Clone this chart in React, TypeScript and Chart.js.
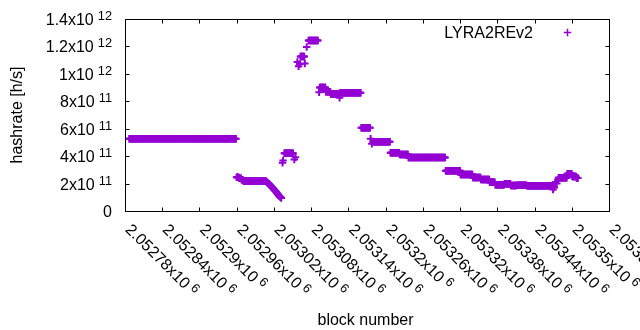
import React, { useEffect, useRef } from 'react';
import { Chart, registerables } from 'chart.js';

Chart.register(...registerables);

// ---- texts ----
const seriesLabel = 'LYRA2REv2';
const xTitle = 'block number';
const yTitle = 'hashrate [h/s]';

// ---- axes ----
const xMin = 2052780;
const xMax = 2053560;
const xTickValues = [2052780, 2052840, 2052900, 2052960, 2053020, 2053080, 2053140, 2053200, 2053260, 2053320, 2053380, 2053440, 2053500, 2053560];
const xTickMantissa = ['2.05278', '2.05284', '2.0529', '2.05296', '2.05302', '2.05308', '2.05314', '2.0532', '2.05326', '2.05332', '2.05338', '2.05344', '2.0535', '2.05356'];
const xTickExp = '6';
const yMin = 0;
const yMax = 1.4e12;
const yTickValues = [0, 2e11, 4e11, 6e11, 8e11, 1e12, 1.2e12, 1.4e12];
const yTickMantissa = ['0', '2', '4', '6', '8', '1', '1.2', '1.4'];
const yTickExp = ['', '11', '11', '11', '11', '12', '12', '12'];

// ---- data: runs of blocks sharing one hashrate value (x 1e11 h/s) ----
const runFirst = [
  2052786, 2052959, 2052963, 2052967, 2052970,
  2053007, 2053008, 2053009, 2053010, 2053011, 2053012, 2053013, 2053014, 2053015, 2053016,
  2053017, 2053018, 2053019, 2053020, 2053021, 2053022, 2053023, 2053024, 2053025, 2053026,
  2053027, 2053028, 2053029, 2053030, 2053031,
  2053033, 2053034, 2053036, 2053052, 2053054,
  2053057, 2053059, 2053061, 2053062, 2053069, 2053072, 2053075,
  2053092, 2053093, 2053103, 2053111, 2053125, 2053126,
  2053160, 2053175, 2053177, 2053179, 2053207, 2053222, 2053236,
  2053296, 2053320, 2053340, 2053353, 2053367, 2053376, 2053391, 2053401, 2053411, 2053427,
  2053469, 2053471, 2053473, 2053475, 2053477, 2053478, 2053492, 2053500, 2053507,
];
const runLast = [
  2052958, 2052962, 2052966, 2052969, 2053006,
  2053007, 2053008, 2053009, 2053010, 2053011, 2053012, 2053013, 2053014, 2053015, 2053016,
  2053017, 2053018, 2053019, 2053020, 2053021, 2053022, 2053023, 2053024, 2053025, 2053026,
  2053027, 2053028, 2053029, 2053030, 2053031,
  2053033, 2053034, 2053050, 2053052, 2053054,
  2053057, 2053059, 2053061, 2053068, 2053069, 2053072, 2053090,
  2053092, 2053102, 2053110, 2053124, 2053125, 2053159,
  2053174, 2053175, 2053177, 2053206, 2053221, 2053235, 2053295,
  2053319, 2053339, 2053352, 2053366, 2053375, 2053390, 2053400, 2053410, 2053426, 2053468,
  2053469, 2053471, 2053473, 2053475, 2053477, 2053491, 2053499, 2053506, 2053509,
];
const runValue = [
  5.3, 2.5, 2.42, 2.32, 2.22,
  2.18, 2.14, 2.1, 2.06, 2.02, 1.97, 1.92, 1.87, 1.82, 1.77,
  1.72, 1.67, 1.62, 1.57, 1.52, 1.47, 1.41, 1.35, 1.29, 1.23,
  1.17, 1.12, 1.07, 1.03, 0.99,
  3.55, 3.72, 4.25, 3.8, 3.95,
  10.9, 10.6, 10.75, 11.3, 10.8, 12.0, 12.46,
  8.7, 9.04, 8.74, 8.56, 8.3, 8.66,
  6.1, 5.3, 4.94, 5.09, 4.28, 4.16, 3.94,
  2.97, 2.7, 2.48, 2.34, 2.14, 1.95, 2.02, 1.9, 1.92, 1.87,
  1.6, 1.75, 2.15, 2.05, 2.3, 2.46, 2.75, 2.55, 2.45,
];
const valueUnit = 1e11;

// ---- style ----
const POINT_COLOR = '#9400d3';
const TEXT_COLOR = '#000000';
const FONT_FAMILY = '"Liberation Sans", Arial, sans-serif';
const FONT_SIZE = 16;
const SUP_SIZE = 12.8;
const SUP_RAISE = 5;
const SUP_GAP = 4;
const TICK_LEN = 4;
const POINT_RADIUS = 3.75;
const POINT_WIDTH = 2;

function buildPoints() {
  const pts: { x: number; y: number }[] = [];
  for (let i = 0; i < runFirst.length; i++) {
    for (let b = runFirst[i]; b <= runLast[i]; b++) {
      pts.push({ x: b, y: runValue[i] * valueUnit });
    }
  }
  return pts;
}

function drawSup(ctx: CanvasRenderingContext2D, mant: string, exp: string, x: number, baseline: number) {
  ctx.font = `${FONT_SIZE}px ${FONT_FAMILY}`;
  ctx.textAlign = 'left';
  ctx.textBaseline = 'alphabetic';
  const main = exp ? mant + 'x10' : mant;
  ctx.fillText(main, x, baseline);
  const w = ctx.measureText(main).width;
  if (exp) {
    ctx.font = `${SUP_SIZE}px ${FONT_FAMILY}`;
    ctx.fillText(exp, x + w + SUP_GAP, baseline - SUP_RAISE);
  }
}

function supWidth(ctx: CanvasRenderingContext2D, mant: string, exp: string) {
  ctx.font = `${FONT_SIZE}px ${FONT_FAMILY}`;
  const main = exp ? mant + 'x10' : mant;
  let w = ctx.measureText(main).width;
  if (exp) {
    ctx.font = `${SUP_SIZE}px ${FONT_FAMILY}`;
    w += SUP_GAP + ctx.measureText(exp).width;
  }
  return w;
}

function drawCross(ctx: CanvasRenderingContext2D, x: number, y: number) {
  ctx.beginPath();
  ctx.moveTo(x - POINT_RADIUS, y);
  ctx.lineTo(x + POINT_RADIUS, y);
  ctx.moveTo(x, y - POINT_RADIUS);
  ctx.lineTo(x, y + POINT_RADIUS);
  ctx.stroke();
}

const gnuplotFrame = {
  id: 'gnuplotFrame',
  afterDraw(chart: any) {
    const { ctx, chartArea: a, scales } = chart;
    const xs = scales.x;
    const ys = scales.y;
    ctx.save();
    ctx.strokeStyle = '#000';
    ctx.lineWidth = 1;
    ctx.strokeRect(a.left, a.top, a.right - a.left, a.bottom - a.top);
    ctx.beginPath();
    for (const v of yTickValues) {
      const y = Math.floor(ys.getPixelForValue(v)) + 0.5;
      ctx.moveTo(a.left, y);
      ctx.lineTo(a.left + TICK_LEN, y);
      ctx.moveTo(a.right, y);
      ctx.lineTo(a.right - TICK_LEN, y);
    }
    for (const v of xTickValues) {
      const x = Math.floor(xs.getPixelForValue(v)) + 0.5;
      ctx.moveTo(x, a.bottom);
      ctx.lineTo(x, a.bottom - TICK_LEN);
      ctx.moveTo(x, a.top);
      ctx.lineTo(x, a.top + TICK_LEN);
    }
    ctx.stroke();

    ctx.fillStyle = TEXT_COLOR;
    // y tick labels, right aligned
    const yLabelRight = 112;
    yTickValues.forEach((v, i) => {
      const y = ys.getPixelForValue(v);
      const w = supWidth(ctx, yTickMantissa[i], yTickExp[i]);
      drawSup(ctx, yTickMantissa[i], yTickExp[i], yLabelRight - w, y + 5.5);
    });
    // x tick labels, rotated -45 (clockwise)
    xTickValues.forEach((v, i) => {
      const x = xs.getPixelForValue(v);
      ctx.save();
      ctx.translate(x + 3, a.bottom + 15);
      ctx.rotate(Math.PI / 4);
      drawSup(ctx, xTickMantissa[i], xTickExp, 0, 5.5);
      ctx.restore();
    });
    // axis titles
    ctx.font = `${FONT_SIZE}px ${FONT_FAMILY}`;
    ctx.textAlign = 'center';
    ctx.textBaseline = 'alphabetic';
    ctx.fillText(xTitle, (a.left + a.right) / 2 - 2, 325);
    ctx.save();
    ctx.translate(22, 115);
    ctx.rotate(-Math.PI / 2);
    ctx.fillText(yTitle, 0, 0);
    ctx.restore();
    // legend
    ctx.textAlign = 'right';
    ctx.fillText(seriesLabel, 533, 38);
    ctx.strokeStyle = POINT_COLOR;
    ctx.lineWidth = 1.5;
    drawCross(ctx, 567.5, 32.5);
    ctx.restore();
  },
};

export default function App() {
  const canvasRef = useRef<HTMLCanvasElement | null>(null);

  useEffect(() => {
    document.body.style.margin = '0';
    const canvas = canvasRef.current;
    if (!canvas) return;
    const chart = new Chart(canvas, {
      type: 'scatter',
      data: {
        datasets: [
          {
            label: seriesLabel,
            data: buildPoints(),
            showLine: false,
            pointStyle: 'cross',
            pointRadius: POINT_RADIUS,
            pointHoverRadius: POINT_RADIUS,
            pointBorderColor: POINT_COLOR,
            pointBackgroundColor: POINT_COLOR,
            pointBorderWidth: POINT_WIDTH,
            pointHoverBorderWidth: POINT_WIDTH,
            borderColor: POINT_COLOR,
          },
        ],
      },
      options: {
        animation: false,
        responsive: false,
        devicePixelRatio: 1,
        events: [],
        layout: { padding: { left: 125.5, right: 30.5, top: 19.5, bottom: 118.5 } },
        plugins: { legend: { display: false }, tooltip: { enabled: false } },
        scales: {
          x: { type: 'linear', min: xMin, max: xMax, display: false },
          y: { type: 'linear', min: yMin, max: yMax, display: false },
        },
      },
      plugins: [gnuplotFrame],
    });
    return () => chart.destroy();
  }, []);

  return (
    <div style={{ width: 640, height: 330, background: '#fff' }}>
      <canvas ref={canvasRef} width={640} height={330} style={{ display: 'block', width: 640, height: 330 }} />
    </div>
  );
}
